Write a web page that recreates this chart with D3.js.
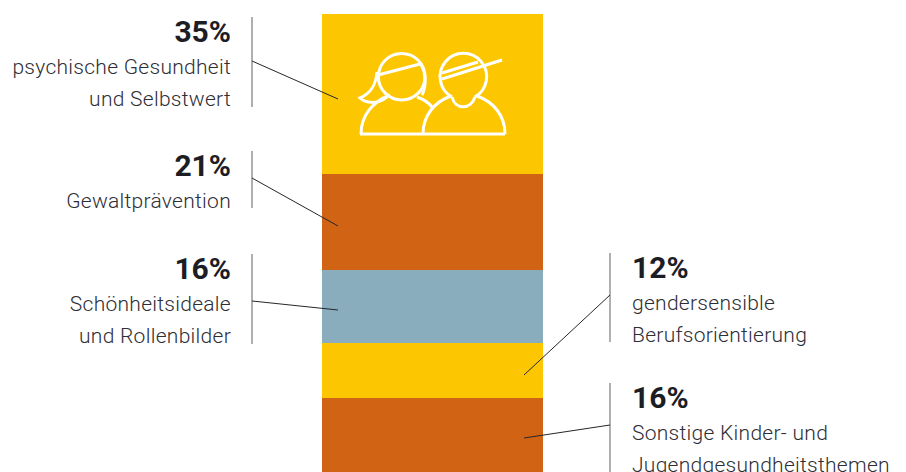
<!DOCTYPE HTML>
<html>

<head>
    <meta charset="utf-8">
    <script src="https://d3js.org/d3.v7.min.js"></script>
</head>
<style type="text/css">
    html, body {
        margin: 0;
        padding: 0;
        background: #fff;
        overflow: hidden;
    }

    svg {
        display: block;
        font-family: Roboto, sans-serif;
    }

    .pct {
        font-size: 30px;
        font-weight: 700;
        fill: #1d1d25;
    }

    .lbl {
        font-size: 21px;
        font-weight: 300;
        letter-spacing: 0.28px;
        fill: #2e2e35;
    }

    .bracket {
        stroke: #85858a;
        stroke-width: 1.3px;
    }

    .leader {
        stroke: #26262c;
        stroke-width: 1px;
    }

    .icon path, .icon circle {
        fill: none;
        stroke: #fff;
        stroke-width: 3px;
    }
</style>

<body>
    <svg id="chart" width="906" height="472"></svg>
    <script>
        // share of projects per topic, top to bottom
        var values = [35, 21, 16, 12, 16];
        var colors = ["#fcc700", "#d06414", "#8aadbe", "#fcc700", "#d06414"];
        var labels = [
            ["psychische Gesundheit", "und Selbstwert"],
            ["Gewaltprävention"],
            ["Schönheitsideale", "und Rollenbilder"],
            ["gendersensible", "Berufsorientierung"],
            ["Sonstige Kinder- und", "Jugendgesundheitsthemen"]
        ];

        // callout layout, one row per segment
        var callouts = [
            { side: "left", top: 17, bottom: 107, base: 42, hook: 61, end: 99 },
            { side: "left", top: 151, bottom: 208, base: 176, hook: 178, end: 226 },
            { side: "left", top: 254, bottom: 344, base: 279, hook: 301, end: 310 },
            { side: "right", top: 253, bottom: 342, base: 278, hook: 295, end: 375 },
            { side: "right", top: 383, bottom: 472, base: 408, hook: 425, end: 438 }
        ];

        var svg = d3.select("#chart");
        var y = d3.scaleLinear().domain([0, d3.sum(values)]).rangeRound([14, 471.5]);
        var stacked = d3.cumsum(values);

        svg.selectAll("rect.seg")
            .data(values)
            .enter().append("rect")
            .attr("class", "seg")
            .attr("x", 322)
            .attr("width", 221)
            .attr("y", function (d, i) { return y(stacked[i] - d); })
            .attr("height", function (d, i) { return y(stacked[i]) - y(stacked[i] - d); })
            .attr("fill", function (d, i) { return colors[i]; });

        // the two kids on top of the first segment
        var icon = svg.append("g").attr("class", "icon").attr("transform", "translate(340,30)");
        icon.append("circle").attr("cx", 61.7).attr("cy", 46.7).attr("r", 23.3);
        icon.append("path").attr("d", "M112 67 A23.3 23.3 0 1 1 134.7 67");
        icon.append("path").attr("d", "M38 45 L80 34");
        icon.append("path").attr("d", "M102 43 L138 32");
        icon.append("path").attr("d", "M102 49 L162 30");
        icon.append("path").attr("d", "M37 42 C36 54 32 63 20 68 C25 73 38 75 47 67");
        icon.append("path").attr("d", "M80 33 C86 42 87 55 82 65");
        icon.append("path").attr("d", "M20 104 H165");
        icon.append("path").attr("d", "M21 104 C21 86 32 72 50 65");
        icon.append("path").attr("d", "M77 67 C83 69 88 72 92 77");
        icon.append("path").attr("d", "M83 104 C83 86 94 72 111 66");
        icon.append("path").attr("d", "M137 66 C154 72 165 86 165 104");
        icon.append("path").attr("d", "M112 67 C115 80 131 80 135 67");

        var groups = svg.selectAll("g.callout")
            .data(callouts)
            .enter().append("g")
            .attr("class", "callout");

        groups.append("line")
            .attr("class", "bracket")
            .attr("x1", function (d) { return d.side == "left" ? 252 : 610; })
            .attr("x2", function (d) { return d.side == "left" ? 252 : 610; })
            .attr("y1", function (d) { return d.top; })
            .attr("y2", function (d) { return d.bottom; });

        groups.append("line")
            .attr("class", "leader")
            .attr("x1", function (d) { return d.side == "left" ? 252 : 610; })
            .attr("y1", function (d) { return d.hook; })
            .attr("x2", function (d) { return d.side == "left" ? 338 : 524; })
            .attr("y2", function (d) { return d.end; });

        groups.append("text")
            .attr("class", "pct")
            .attr("x", function (d) { return d.side == "left" ? 231 : 632; })
            .attr("y", function (d) { return d.base; })
            .attr("text-anchor", function (d) { return d.side == "left" ? "end" : "start"; })
            .text(function (d, i) { return values[i] + "%"; });

        groups.each(function (d, i) {
            d3.select(this).selectAll("text.lbl")
                .data(labels[i])
                .enter().append("text")
                .attr("class", "lbl")
                .attr("x", d.side == "left" ? 231 : 632)
                .attr("y", function (t, j) { return d.base + 32 + j * 32; })
                .attr("text-anchor", d.side == "left" ? "end" : "start")
                .text(function (t) { return t; });
        });
    </script>
</body>

</html>
